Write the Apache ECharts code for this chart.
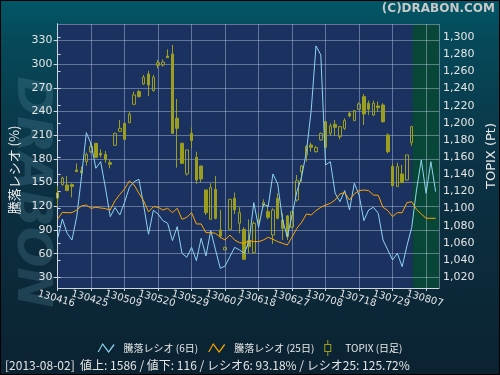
<!DOCTYPE html>
<html><head><meta charset="utf-8">
<script src="https://cdn.jsdelivr.net/npm/echarts@6/dist/echarts.min.js"></script>
<style>html,body{margin:0;padding:0;background:#0b2231}#c{width:500px;height:375px}</style>
</head><body><div id="c"></div>
<script>
// trading days (index = x position)
const dates = ['130416','130417','130418','130419','130422','130423','130424','130425','130426','130430',
'130501','130502','130507','130508','130509','130510','130513','130514','130515','130516','130517','130520','130521','130522','130523','130524','130527','130528','130529','130530','130531',
'130603','130604','130605','130606','130607','130610','130611','130612','130613','130614','130617','130618','130619','130620','130621','130624','130625','130626','130627','130628',
'130701','130702','130703','130704','130705','130708','130709','130710','130711','130712','130716','130717','130718','130719','130722','130723','130724','130725','130726','130729','130730','130731',
'130801','130802','130805','130806','130807','130808','130809'];
const labelEvery = 7;

// TOPIX daily candles (Pt)
const topixOpen  = [1112.1,1128.0,1127.6,1128.0,1145.1,1144.3,1154.8,1166.4,1176.2,1164.5,1163.3,1153.6,1173.8,1190.1,1199.5,1200.2,1221.6,1236.4,1245.3,1257.0,1237.5,1267.1,1267.5,1277.9,1280.3,1205.3,1176.2,1140.4,1187.8,1159.8,1149.7,1121.8,1087.6,1122.5,1075.2,1051.8,1075.9,1112.1,1082.9,1075.9,1062.7,1048.7,1084.9,1104.3,1096.5,1069.3,1112.1,1086.8,1091.5,1078.3,1110.1,1143.1,1162.6,1174.2,1166.4,1180.1,1201.4,1187.8,1198.3,1183.9,1193.6,1211.1,1202.6,1215.8,1230.5,1222.8,1209.2,1219.7,1220.8,1185.9,1149.0,1125.7,1140.4,1133.4,1176.9];
const topixClose = [1118.7,1135.8,1121.0,1125.7,1143.1,1142.0,1163.3,1172.3,1159.8,1162.6,1157.5,1151.7,1187.8,1193.6,1180.8,1210.0,1232.5,1230.5,1253.1,1244.1,1253.1,1270.2,1270.9,1276.0,1187.8,1193.6,1152.8,1168.4,1179.3,1133.4,1134.6,1095.3,1124.5,1088.7,1068.2,1054.9,1110.9,1098.5,1095.3,1041.0,1055.7,1082.9,1086.8,1107.0,1089.9,1098.5,1088.7,1077.1,1067.4,1096.5,1132.6,1149.7,1172.3,1171.5,1171.1,1187.8,1171.5,1196.4,1194.8,1195.6,1202.6,1208.0,1214.2,1222.0,1210.3,1215.8,1222.8,1217.7,1201.4,1166.4,1126.8,1149.0,1130.3,1162.6,1195.6];
const topixLow   = [1102.3,1126.8,1121.0,1113.2,1143.1,1139.3,1150.1,1164.5,1159.8,1159.8,1153.6,1147.0,1173.1,1189.4,1180.8,1199.5,1220.8,1229.8,1244.1,1231.3,1236.4,1263.6,1265.5,1276.0,1187.0,1147.8,1152.8,1138.5,1170.3,1128.8,1130.7,1092.6,1086.8,1087.6,1065.4,1051.8,1075.9,1093.8,1071.3,1040.2,1047.9,1047.9,1082.9,1101.6,1087.6,1058.8,1087.6,1063.5,1063.5,1077.1,1108.2,1131.5,1154.8,1166.4,1165.3,1179.3,1171.5,1184.7,1184.7,1180.8,1191.7,1206.5,1202.6,1215.0,1197.5,1209.2,1208.0,1213.1,1200.2,1164.5,1126.8,1125.7,1130.3,1132.6,1173.1];
const topixHigh  = [1126.4,1137.3,1138.1,1129.5,1152.8,1149.0,1165.3,1176.9,1176.2,1169.2,1167.2,1156.7,1188.6,1203.4,1199.5,1213.1,1236.4,1238.3,1255.8,1260.8,1255.8,1273.3,1274.1,1285.7,1290.8,1227.8,1176.2,1168.4,1194.8,1166.4,1149.7,1121.8,1129.5,1138.1,1098.5,1054.9,1110.9,1118.7,1101.6,1078.3,1087.6,1084.9,1094.6,1110.9,1104.3,1100.4,1117.9,1094.6,1092.6,1096.5,1139.2,1150.9,1174.2,1176.9,1173.1,1188.6,1201.4,1199.5,1203.4,1196.4,1205.3,1213.1,1214.2,1223.6,1233.6,1225.9,1225.9,1224.7,1222.8,1187.8,1152.8,1153.6,1150.9,1162.6,1196.4];

// advance/decline ratios (%)
const ratio6  = [79.4,103.9,85.7,77.3,106.9,157.5,213.2,198.9,168.1,176.5,143.0,106.9,118.3,109.0,125.0,144.0,151.2,154.1,120.5,84.5,114.8,110.2,101.8,98.4,76.5,94.2,60.4,55.4,68.0,51.1,79.4,57.0,89.1,64.7,41.4,44.4,56.2,68.0,64.7,60.4,75.2,124.6,93.4,122.9,119.5,160.9,148.2,102.6,81.5,109.0,138.5,157.5,189.2,241.9,323.0,311.6,172.3,176.5,136.4,125.8,139.8,115.3,149.1,134.3,101.8,115.3,118.7,111.1,77.3,64.7,52.0,60.4,43.5,70.0,93.18,140.6,178.6,136.4,176.5,138.5];
const ratio25 = [103.9,112.3,111.9,111.9,115.3,120.4,121.6,117.4,118.7,117.8,117.0,115.3,127.0,135.0,142.0,152.0,147.0,136.4,126.7,112.8,119.5,118.7,115.3,117.4,111.9,117.4,103.5,106.0,111.9,97.6,97.6,86.6,86.6,85.7,80.7,77.3,83.6,77.3,73.9,73.1,76.5,75.2,75.2,77.3,80.7,78.2,75.2,73.1,71.0,81.0,92.1,99.7,110.2,109.0,114.5,118.7,121.6,123.7,128.0,135.6,137.3,128.0,135.6,139.8,140.6,139.8,134.3,133.9,118.7,114.5,106.9,111.9,111.9,124.6,125.72,116.1,110.2,104.8,104.8,104.8];

const seriesNames = ['騰落レシオ (6日)', '騰落レシオ (25日)', 'TOPIX (日足)'];
const footer = '[2013-08-02]  値上: 1586 / 値下: 116 / レシオ6: 93.18% / レシオ25: 125.72%';

const OLIVE = 'rgb(155,158,30)';
const xMax = 79.7;
const lastDay = topixClose.length - 1;
const futureStart = lastDay + 0.2;

const fmtComma = v => String(Math.round(v)).replace(/\B(?=(\d{3})+(?!\d))/g, ',');
const zig = 'path://M0,10 L5,1 L11,9 L16,2 L17,3 L11,11 L5,3 L1.3,10 Z';
const candleIcon = 'path://M3,0 L4,0 L4,4 L7,4 L7,12 L4,12 L4,16 L3,16 L3,12 L0,12 L0,4 L3,4 Z M1,5 L1,11 L6,11 L6,5 Z';

const chart = echarts.init(document.getElementById('c'), null, {renderer: 'canvas'});
const FONT = '"DejaVu Sans", "Noto Sans CJK JP", sans-serif';
const JFONT = '"Noto Sans CJK JP", "DejaVu Sans", sans-serif';
const gridLine = {show: true, lineStyle: {color: 'rgba(200,212,235,0.42)', width: 1}};

// label helper: even / odd label groups go on two stacked x axes so none is auto-hidden
const dateLabel = parity => v => {
  const r = Math.round(v);
  if (Math.abs(v - r) > 1e-6 || r % labelEvery !== 0 || !dates[r]) return '';
  return ((r / labelEvery) % 2 === parity) ? dates[r] : '';
};
const xLabelStyle = {color: '#e4e4e4', fontSize: 10, fontFamily: FONT, rotate: -16, align: 'center',
  verticalAlign: 'top', margin: 6, hideOverlap: false, showMaxLabel: false};

chart.setOption({
  animation: false,
  backgroundColor: {type: 'linear', x: 0, y: 0, x2: 0, y2: 1, colorStops: [
    {offset: 0, color: '#005767'}, {offset: 0.1, color: '#064a5a'},
    {offset: 0.45, color: '#0b3244'}, {offset: 1, color: '#0b2231'}]},
  title: [
    {text: '(C)DRABON.COM', right: 5, top: 3, padding: 0,
     textStyle: {fontSize: 12, fontWeight: 'bold', color: '#c8c8c8', fontFamily: FONT}},
    {text: footer, left: 5, top: 359, padding: 0,
     textStyle: {fontSize: 12, fontWeight: 'normal', color: '#e4e4e4', fontFamily: JFONT}}
  ],
  graphic: [
    {type: 'text', x: 30, y: 192, rotation: -Math.PI / 2, z: -5, silent: true,
     style: {text: 'DRABON', font: 'italic bold 48px "DejaVu Sans"', fill: 'rgba(95,150,170,0.24)',
             align: 'center', verticalAlign: 'middle'}},
    {type: 'rect', z: 100, silent: true, shape: {x: 0.5, y: 0.5, width: 499, height: 374},
     style: {fill: 'none', stroke: '#000', lineWidth: 1}}
  ],
  legend: {
    top: 335, left: 'center', itemWidth: 17, itemHeight: 16, itemGap: 10,
    textStyle: {color: '#e8e8e8', fontSize: 10, fontFamily: JFONT, padding: [0, 0, 0, 4]},
    data: [
      {name: seriesNames[0], icon: zig, itemStyle: {color: '#8fd3f0', borderWidth: 0}},
      {name: seriesNames[1], icon: zig, itemStyle: {color: '#ffa500', borderWidth: 0}},
      {name: seriesNames[2], icon: candleIcon, itemStyle: {color: OLIVE, borderWidth: 0}}
    ]
  },
  grid: {left: 57.6, top: 24, width: 381.4, height: 264, show: false, containLabel: false, outerBoundsMode: 'none'},
  xAxis: [
    {type: 'value', min: 0, max: xMax, interval: labelEvery, z: 2, position: 'bottom',
     axisLine: {show: true, lineStyle: {color: '#cfd6e0'}},
     axisTick: {show: true, length: 3, lineStyle: {color: '#cfd6e0'}},
     splitLine: gridLine,
     axisLabel: Object.assign({}, xLabelStyle, {showMinLabel: true, formatter: dateLabel(0)})},
    {type: 'value', min: 0, max: xMax, interval: labelEvery, z: 2, position: 'bottom',
     axisLine: {show: false}, axisTick: {show: false}, splitLine: {show: false},
     axisLabel: Object.assign({}, xLabelStyle, {showMinLabel: false, formatter: dateLabel(1)})}
  ],
  yAxis: [
    {type: 'value', min: 16.5, max: 350.8, splitNumber: 11, z: 2, position: 'left',
     name: '騰落レシオ (%)', nameLocation: 'middle', nameGap: 37,
     nameTextStyle: {color: '#ececec', fontSize: 13, fontFamily: JFONT, padding: [0, 28, 0, 0]},
     axisLine: {show: true, lineStyle: {color: '#cfd6e0'}},
     axisTick: {show: true, length: 4, lineStyle: {color: '#cfd6e0'}},
     splitLine: gridLine,
     axisLabel: {color: '#e4e4e4', fontSize: 11, fontFamily: FONT, margin: 5, showMinLabel: false, showMaxLabel: false}},
    {type: 'value', min: 1007.5, max: 1315.2, splitNumber: 15, z: 2, position: 'right',
     name: 'TOPIX (Pt)', nameLocation: 'middle', nameGap: 42,
     nameTextStyle: {color: '#ececec', fontSize: 13, fontFamily: FONT},
     axisLine: {show: true, lineStyle: {color: '#cfd6e0'}},
     axisTick: {show: true, length: 3, lineStyle: {color: '#cfd6e0'}},
     splitLine: {show: false},
     axisLabel: {color: '#e4e4e4', fontSize: 11, fontFamily: FONT, margin: 4, showMinLabel: false, showMaxLabel: false,
                 formatter: fmtComma}}
  ],
  series: [
    {type: 'line', name: '_bg', data: [], xAxisIndex: 0, yAxisIndex: 0, z: 1, silent: true,
     markArea: {silent: true, z: 1, data: [
       [{xAxis: 0, itemStyle: {color: '#1b3260'}}, {xAxis: futureStart}],
       [{xAxis: futureStart, itemStyle: {color: '#084638'}}, {xAxis: xMax}]
     ]}},
    {type: 'candlestick', name: seriesNames[2], xAxisIndex: 0, yAxisIndex: 1, z: 3, barWidth: 3,
     itemStyle: {color: 'rgba(0,0,0,0)', color0: OLIVE, borderColor: OLIVE, borderColor0: OLIVE, borderWidth: 1},
     data: topixOpen.map((o, i) => [i, o, topixClose[i], topixLow[i], topixHigh[i]])},
    {type: 'line', name: seriesNames[0], xAxisIndex: 0, yAxisIndex: 0, z: 4, showSymbol: false, symbol: 'none',
     lineStyle: {color: '#8fd3f0', width: 1}, itemStyle: {color: '#8fd3f0'},
     data: ratio6.map((v, i) => [i, v])},
    {type: 'line', name: seriesNames[1], xAxisIndex: 0, yAxisIndex: 0, z: 4, showSymbol: false, symbol: 'none',
     lineStyle: {color: '#ffa500', width: 1}, itemStyle: {color: '#ffa500'},
     data: ratio25.map((v, i) => [i, v])}
  ]
});
</script></body></html>
